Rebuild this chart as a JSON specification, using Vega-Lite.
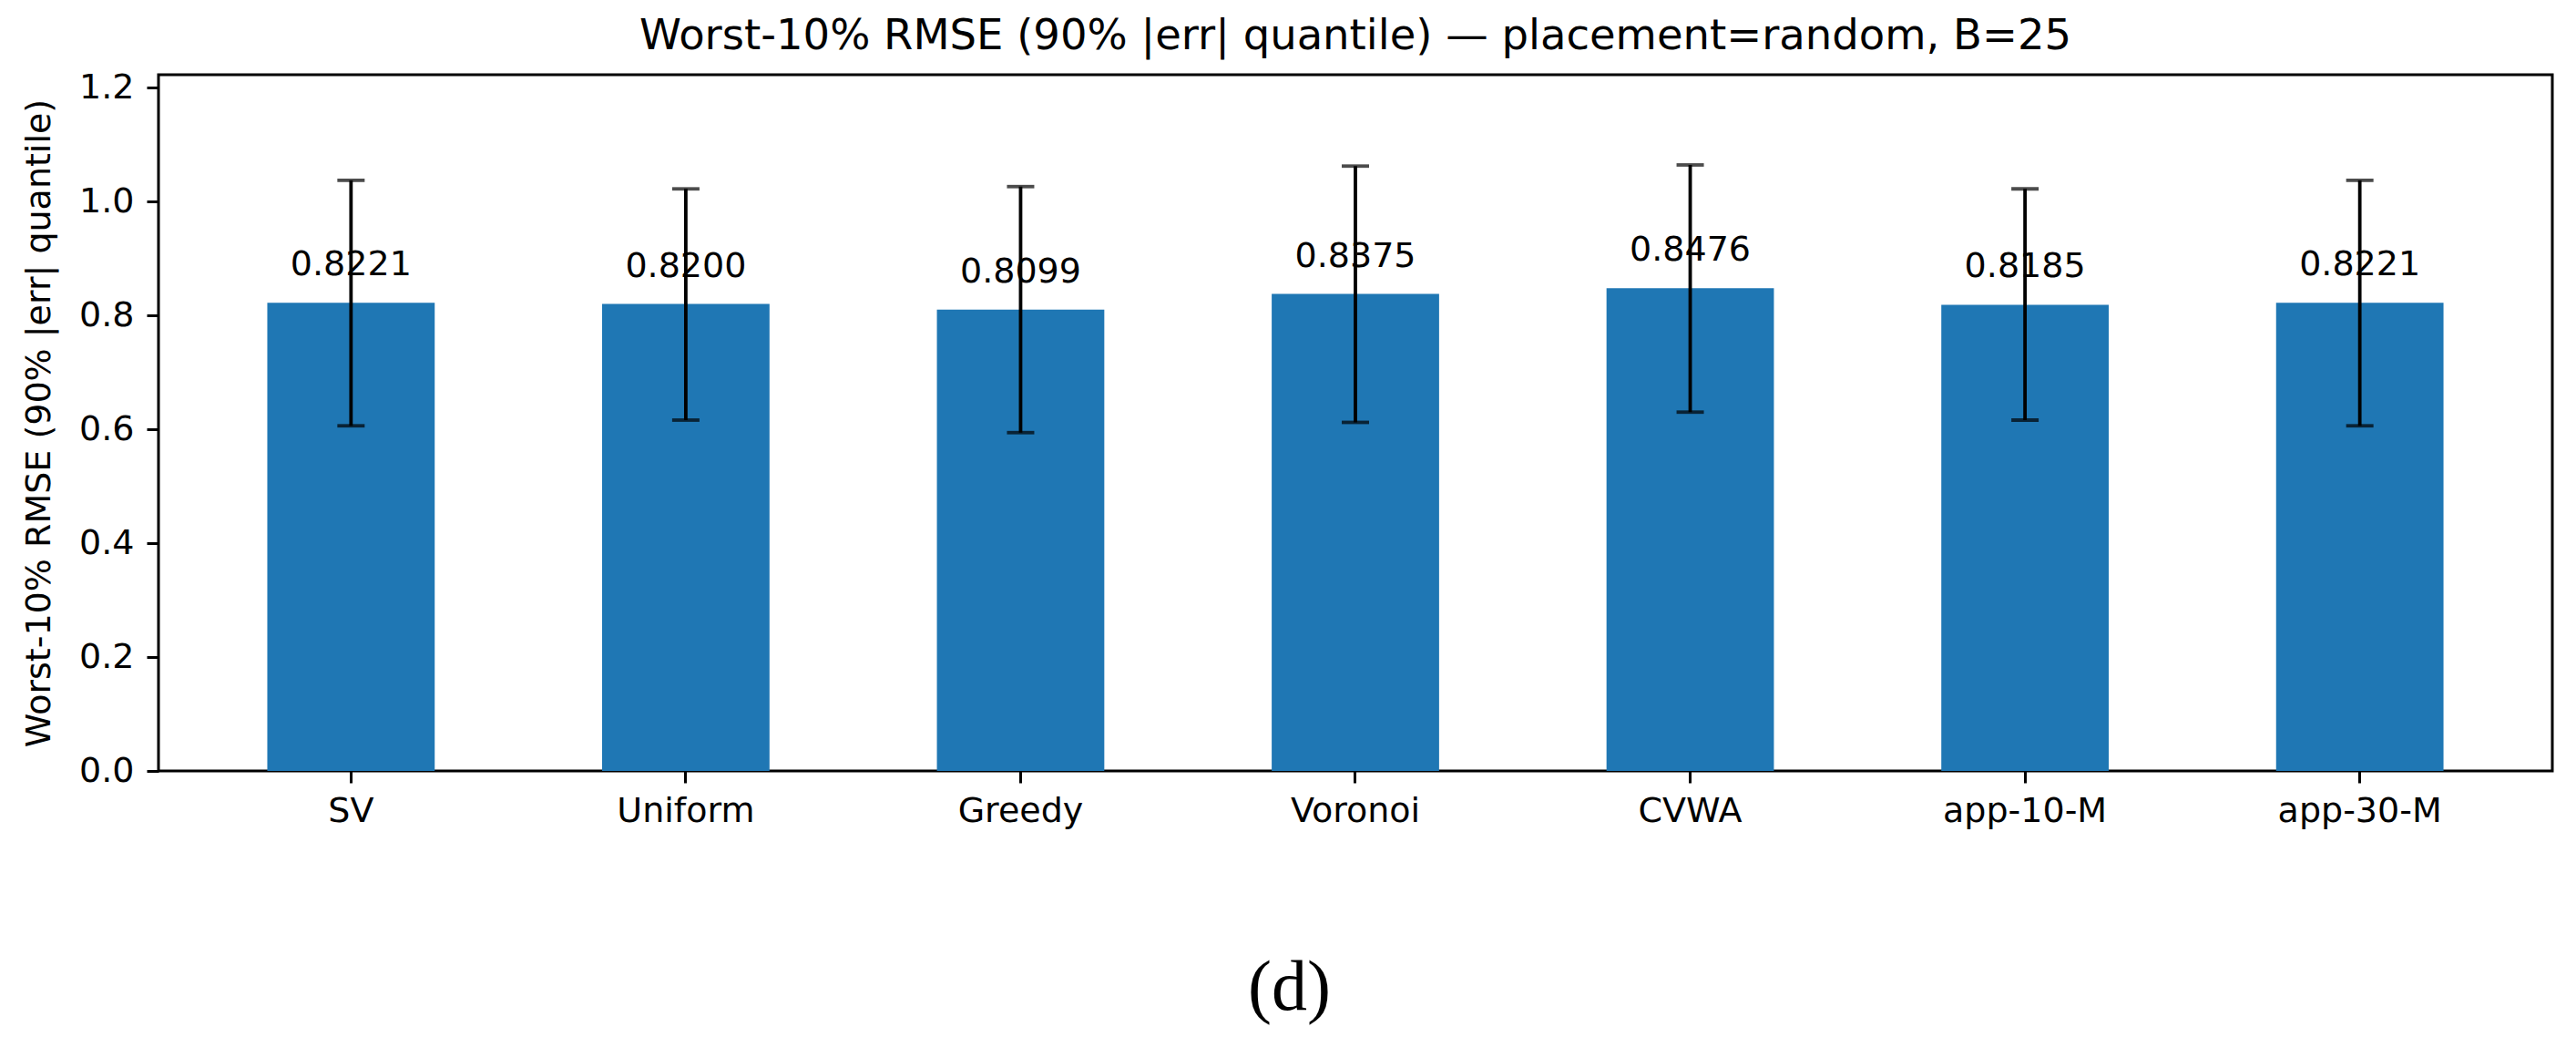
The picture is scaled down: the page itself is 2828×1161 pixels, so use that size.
{
  "$schema": "https://vega.github.io/schema/vega-lite/v6.json",
  "width": 2628,
  "height": 764,
  "autosize": {"type": "none"},
  "padding": {"left": 174, "top": 82, "right": 26, "bottom": 315},
  "background": "white",
  "title": {
    "text": "Worst-10% RMSE (90% |err| quantile) — placement=random, B=25",
    "font": "DejaVu Sans",
    "fontSize": 46.5,
    "fontWeight": "normal",
    "color": "black",
    "anchor": "middle",
    "offset": 14
  },
  "config": {
    "view": {"stroke": "black", "strokeWidth": 3},
    "axis": {"grid": false, "domain": false}
  },
  "data": {
    "values": [
      {"method": "SV", "value": 0.8221, "lo": 0.606, "hi": 1.037},
      {"method": "Uniform", "value": 0.8200, "lo": 0.616, "hi": 1.022},
      {"method": "Greedy", "value": 0.8099, "lo": 0.594, "hi": 1.026},
      {"method": "Voronoi", "value": 0.8375, "lo": 0.612, "hi": 1.062},
      {"method": "CVWA", "value": 0.8476, "lo": 0.630, "hi": 1.064},
      {"method": "app-10-M", "value": 0.8185, "lo": 0.616, "hi": 1.022},
      {"method": "app-30-M", "value": 0.8221, "lo": 0.606, "hi": 1.037}
    ]
  },
  "encoding": {
    "x": {
      "field": "method",
      "type": "nominal",
      "sort": null,
      "scale": {"paddingInner": 0.5, "paddingOuter": 0.325},
      "axis": {
        "labelAngle": 0,
        "labelLimit": 0,
        "labelFont": "DejaVu Sans",
        "labelFontSize": 38,
        "labelColor": "black",
        "labelPadding": 12,
        "tickSize": 13,
        "tickWidth": 3,
        "tickColor": "black",
        "title": "(d)",
        "titleFont": "Liberation Serif",
        "titleFontSize": 78,
        "titleFontWeight": "normal",
        "titleColor": "black",
        "titlePadding": 136,
        "titleX": 1241
      }
    }
  },
  "layer": [
    {
      "mark": {"type": "bar", "color": "#1f77b4"},
      "encoding": {
        "y": {
          "field": "value",
          "type": "quantitative",
          "title": "Worst-10% RMSE (90% |err| quantile)",
          "scale": {"domain": [0, 1.2224], "nice": false, "zero": true},
          "axis": {
            "values": [0, 0.2, 0.4, 0.6, 0.8, 1.0, 1.2],
            "format": ".1f",
            "labelFont": "DejaVu Sans",
            "labelFontSize": 38,
            "labelColor": "black",
            "labelPadding": 14,
            "tickSize": 13,
            "tickWidth": 3,
            "tickColor": "black",
            "titleFont": "DejaVu Sans",
            "titleFontSize": 38,
            "titleFontWeight": "normal",
            "titleColor": "black",
            "titlePadding": 24
          }
        }
      }
    },
    {
      "mark": {"type": "text", "dy": -30, "baseline": "alphabetic", "align": "center", "font": "DejaVu Sans", "fontSize": 38, "color": "black"},
      "encoding": {
        "y": {"field": "value", "type": "quantitative", "title": "Worst-10% RMSE (90% |err| quantile)"},
        "text": {"field": "value", "type": "quantitative", "format": ".4f"}
      }
    },
    {
      "mark": {"type": "rule", "color": "black", "strokeWidth": 3.8},
      "encoding": {
        "y": {"field": "lo", "type": "quantitative", "title": "Worst-10% RMSE (90% |err| quantile)"},
        "y2": {"field": "hi"}
      }
    },
    {
      "mark": {"type": "tick", "color": "black", "size": 30, "thickness": 3.8, "orient": "horizontal"},
      "encoding": {
        "y": {"field": "lo", "type": "quantitative", "title": "Worst-10% RMSE (90% |err| quantile)"}
      }
    },
    {
      "mark": {"type": "tick", "color": "black", "size": 30, "thickness": 3.8, "orient": "horizontal"},
      "encoding": {
        "y": {"field": "hi", "type": "quantitative", "title": "Worst-10% RMSE (90% |err| quantile)"}
      }
    }
  ]
}
